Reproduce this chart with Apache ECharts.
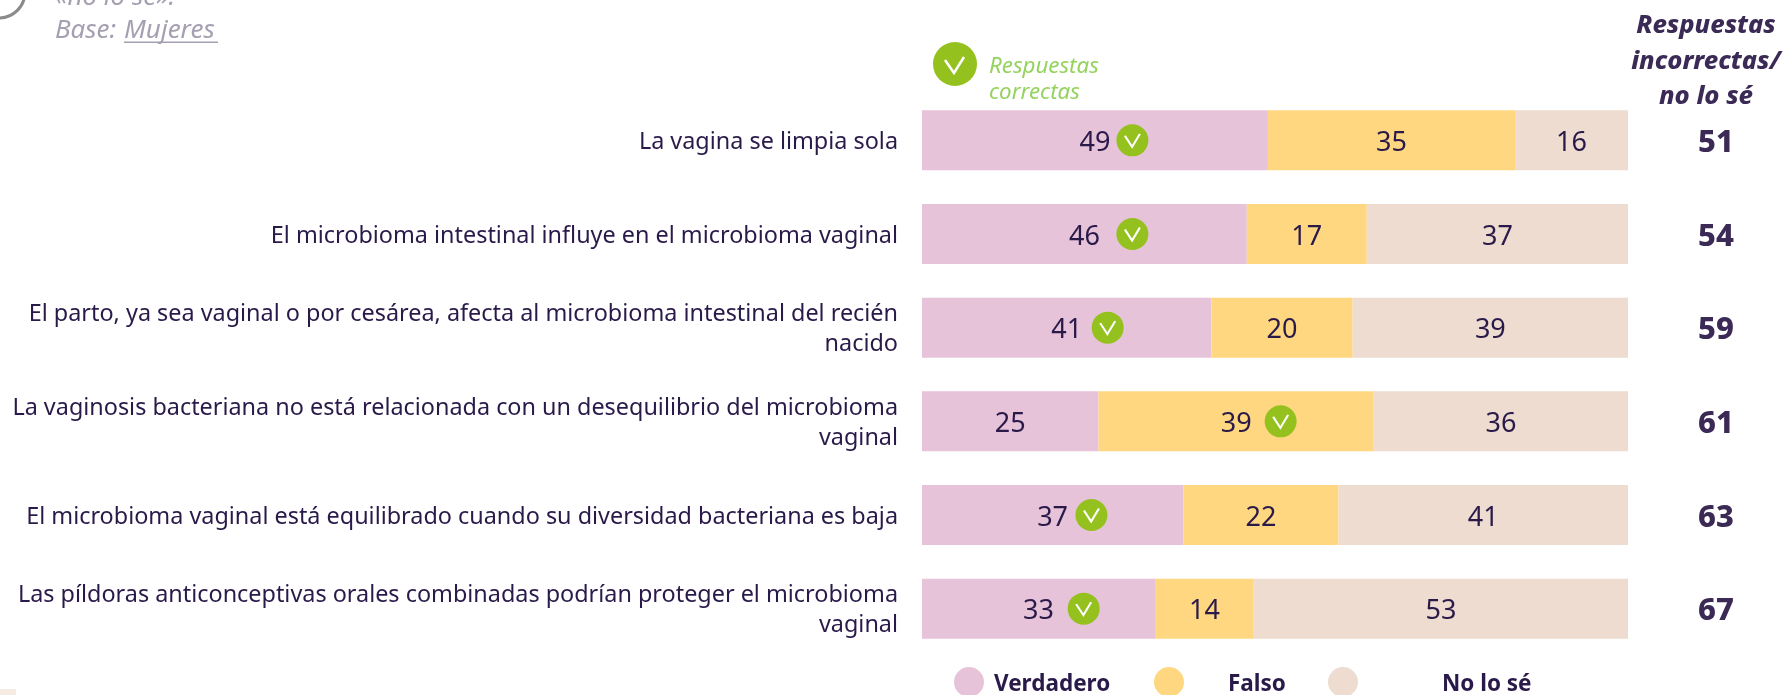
<!DOCTYPE html>
<html><head><meta charset="utf-8">
<style>html,body{margin:0;padding:0;background:#fff}#c{width:1785px;height:695px}</style>
<script src="https://cdn.jsdelivr.net/npm/echarts@6/dist/echarts.min.js"></script>
</head><body><div id="c"></div>
<script>
const categories = [
  "La vagina se limpia sola",
  "El microbioma intestinal influye en el microbioma vaginal",
  "El parto, ya sea vaginal o por cesárea, afecta al microbioma intestinal del recién\nnacido",
  "La vaginosis bacteriana no está relacionada con un desequilibrio del microbioma\nvaginal",
  "El microbioma vaginal está equilibrado cuando su diversidad bacteriana es baja",
  "Las píldoras anticonceptivas orales combinadas podrían proteger el microbioma\nvaginal"
];
const verdadero = [49, 46, 41, 25, 37, 33];
const falso = [35, 17, 20, 39, 22, 14];
const noLoSe = [16, 37, 39, 36, 41, 53];
const incorrectas = ["51", "54", "59", "61", "63", "67"];
const checkAt = [29.8, 29.8, 26.3, 50.8, 24.0, 22.9];
const FONT = '"Noto Sans", sans-serif';
const INK = '#2a1a4a';
const chart = echarts.init(document.getElementById('c'), null, {renderer:'canvas'});
const barSeries = (name, data, color) => ({
  name, type:'bar', stack:'t', data, barWidth:60, z:2,
  itemStyle:{color},
  label:{show:true, position:'inside', offset:[0,3], color:INK, fontFamily:FONT, fontSize:27},
  emphasis:{disabled:true}
});
const checkPts = checkAt.map((v,i)=>[v,i]);
const legendBase = {
  orient:'horizontal', top:662, itemWidth:30, itemHeight:30, symbolKeepAspect:false,
  icon:'circle', selectedMode:false, formatter:n=>'{l|'+n+'}'
};
const legendText = pad => ({rich:{l:{color:INK, fontFamily:FONT, fontSize:22.5, fontWeight:700, padding:[6,0,0,pad]}}});
const headStyle = text => ({text, font:'italic 800 25.5px "Noto Sans"', fill:'#3a2a55', textAlign:'center', textVerticalAlign:'middle'});
const noteFont = 'italic 26px "Noto Sans"';
chart.setOption({
  animation:false,
  grid:{left:922, right:157, top:93.5, bottom:39.5},
  xAxis:{type:'value', min:0, max:100, show:false},
  yAxis:[
    {type:'category', data:categories, inverse:true, axisLine:{show:false}, axisTick:{show:false},
     axisLabel:{align:'right', margin:24,
       formatter:v=>v.split('\n').map(l=>'{t|'+l+'}').join('\n'),
       rich:{t:{color:INK, fontFamily:FONT, fontSize:23.4, lineHeight:30, padding:[4,0,0,0]}}}},
    {type:'category', data:incorrectas, inverse:true, position:'right', axisLine:{show:false}, axisTick:{show:false},
     axisLabel:{align:'center', margin:88, formatter:v=>'{n|'+v+'}',
       rich:{n:{color:'#3a2a55', fontFamily:FONT, fontSize:31, fontWeight:800, padding:[6,0,0,0]}}}}
  ],
  legend:[
    Object.assign({}, legendBase, {data:['Verdadero'], left:949, textStyle:legendText(5)}),
    Object.assign({}, legendBase, {data:['Falso'], left:1149, textStyle:legendText(39)}),
    Object.assign({}, legendBase, {data:['No lo sé'], left:1323, textStyle:legendText(79)})
  ],
  series:[
    barSeries('Verdadero', verdadero, '#e6c3d9'),
    barSeries('Falso', falso, '#ffd781'),
    barSeries('No lo sé', noLoSe, '#eddccf'),
    {type:'scatter', data:checkPts, symbol:'circle', symbolSize:32, z:3, silent:true,
     itemStyle:{color:'#95c11f', opacity:1}},
    {type:'scatter', data:checkPts, symbol:'path://M0 15L48 100L100 0', symbolSize:[15,13], z:4, silent:true,
     itemStyle:{color:'none', borderColor:'#fff', borderWidth:2, opacity:1}}
  ],
  graphic:[
    {type:'rect', shape:{x:0,y:689,width:16,height:6}, style:{fill:'#f5ebe3'}},
    {type:'arc', shape:{cx:-1,cy:-8,r:26,startAngle:0,endAngle:Math.PI}, style:{stroke:'#8a8a8a',lineWidth:3,fill:'none'}},
    {type:'text', x:55, y:-2, style:{text:'«no lo sé».', font:noteFont, fill:'#a59fb1', textVerticalAlign:'middle'}},
    {type:'text', x:55, y:31, style:{text:'Base:', font:noteFont, fill:'#a59fb1', textVerticalAlign:'middle'}},
    {type:'text', x:124, y:31, style:{text:'Mujeres', font:noteFont, fill:'#a59fb1', textVerticalAlign:'middle'}},
    {type:'rect', shape:{x:124,y:41.5,width:94,height:1.5}, style:{fill:'#a59fb1'}},
    {type:'circle', shape:{cx:955,cy:64,r:22}, style:{fill:'#95c11f'}},
    {type:'polyline', shape:{points:[[945,60],[954,73],[964,57]]}, style:{stroke:'#fff',lineWidth:2.5,fill:'none'}},
    {type:'text', x:989, y:67, style:{text:'Respuestas', font:'italic 22.3px "Noto Sans"', fill:'#95d35f', textVerticalAlign:'middle'}},
    {type:'text', x:989, y:93, style:{text:'correctas', font:'italic 22.3px "Noto Sans"', fill:'#95d35f', textVerticalAlign:'middle'}},
    {type:'text', x:1706, y:26, style:headStyle('Respuestas')},
    {type:'text', x:1706, y:62, style:headStyle('incorrectas/')},
    {type:'text', x:1706, y:97, style:headStyle('no lo sé')}
  ]
});
</script></body></html>
